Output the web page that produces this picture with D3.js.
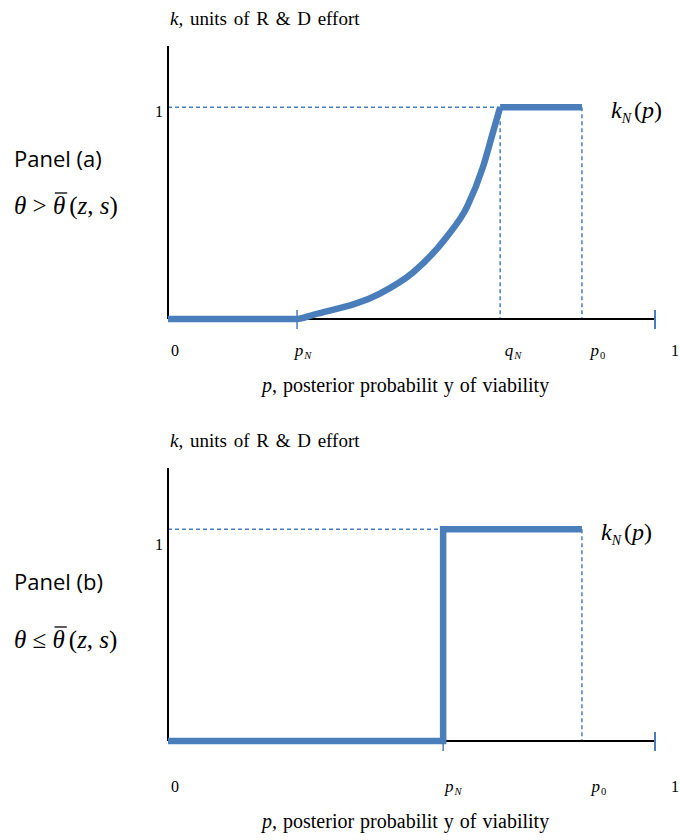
<!DOCTYPE html>
<html>
<head>
<meta charset="utf-8">
<script src="https://cdn.jsdelivr.net/npm/d3@7"></script>
<style>
  body { margin: 0; background: #fff; }
  svg { display: block; }
</style>
</head>
<body>
<svg width="680" height="840"></svg>
<script>
(function(){
    // Values (p on [0,1], k in units of effort)
    const pTicksA = ["pN", "qN", "p0"];
    const pValuesA = [0.265, 0.682, 0.85];
    const curvePA = [0, 0.265, 0.298, 0.435, 0.503, 0.573, 0.614, 0.647, 0.667, 0.682];
    const curveKA = [0, 0, 0.02, 0.12, 0.22, 0.39, 0.53, 0.72, 0.88, 1];
    const flatPA = [0.682, 0.85];

    const pTicksB = ["pN", "p0"];
    const pValuesB = [0.565, 0.85];
    const stepPB = [0, 0.565, 0.565, 0.85];
    const stepKB = [0, 0, 1, 1];

    const blue = "#4a7ebb";
    const serif = "'Liberation Serif', 'Times New Roman', serif";
    const sans = "'Open Sans', 'Noto Sans', sans-serif";

    const svg = d3.select("svg");

    // Shared x scale; each panel gets its own y range
    const x = d3.scaleLinear().domain([0, 1]).range([168, 655]);

    // label helper: italic letter with a subscript
    function subLabel(g, x0, y0, base, sub, size) {
        const t = g.append("text")
            .attr("x", x0).attr("y", y0)
            .attr("text-anchor", "middle")
            .style("font-family", serif)
            .style("font-size", size + "px");
        t.append("tspan").style("font-style", "italic").text(base);
        t.append("tspan").attr("dx", 1).attr("dy", 3)
            .style("font-size", (size * 0.62) + "px")
            .style("font-style", sub === "0" ? "normal" : "italic")
            .text(sub);
        return t;
    }

    function drawPanel(opts) {
        const g = svg.append("g");
        const y = d3.scaleLinear().domain([0, 1.29]).range([opts.base, opts.base - 273]);

        // axis title on top
        const kt = g.append("text")
            .attr("x", 170).attr("y", opts.base - 294)
            .style("font-family", serif).style("font-size", "19px")
            .style("word-spacing", "2px");
        kt.append("tspan").style("font-style", "italic").text("k");
        kt.append("tspan").text(", units  of  R & D effort");

        // dashed guides
        const dash = g.append("g")
            .attr("stroke", blue).attr("stroke-width", 1.5)
            .attr("stroke-dasharray", "4,3").attr("fill", "none");
        dash.append("line")
            .attr("x1", x(0)).attr("x2", x(opts.dashTo))
            .attr("y1", y(1)).attr("y2", y(1));
        opts.dropLines.forEach(p => {
            dash.append("line")
                .attr("x1", x(p)).attr("x2", x(p))
                .attr("y1", y(1)).attr("y2", y(0));
        });

        // axes
        g.append("line")
            .attr("x1", x(0)).attr("x2", x(0))
            .attr("y1", y(1.29)).attr("y2", y(0))
            .attr("stroke", "#000").attr("stroke-width", 2);
        g.append("line")
            .attr("x1", x(0)).attr("x2", x(1))
            .attr("y1", y(0)).attr("y2", y(0))
            .attr("stroke", "#000").attr("stroke-width", 2);

        // blue ticks
        g.append("line")
            .attr("x1", x(1)).attr("x2", x(1))
            .attr("y1", y(0) - 9).attr("y2", y(0) + 10)
            .attr("stroke", blue).attr("stroke-width", 2);
        g.append("line")
            .attr("x1", x(opts.pN)).attr("x2", x(opts.pN))
            .attr("y1", y(0) - opts.pNTickUp).attr("y2", y(0) + 10)
            .attr("stroke", blue).attr("stroke-width", 1.5);

        // the k_N(p) function
        opts.drawCurve(g, y);

        // tick labels
        g.append("text").attr("x", 159).attr("y", y(1) + opts.oneDy)
            .attr("text-anchor", "middle")
            .style("font-family", serif).style("font-size", "16px").text("1");
        const ly = y(0) + opts.labelDy;
        g.append("text").attr("x", 175).attr("y", ly).attr("text-anchor", "middle")
            .style("font-family", serif).style("font-size", "16px").text("0");
        g.append("text").attr("x", 675).attr("y", ly).attr("text-anchor", "middle")
            .style("font-family", serif).style("font-size", "16px").text("1");
        opts.ticks.forEach((name, i) => {
            subLabel(g, x(opts.tickVals[i]) + opts.tickShift[i], ly, name[0], name[1], 17);
        });

        // x axis title
        const xt = g.append("text")
            .attr("x", 262).attr("y", y(0) + opts.titleDy)
            .style("font-family", serif).style("font-size", "20px")
            .style("word-spacing", "1px");
        xt.append("tspan").style("font-style", "italic").text("p");
        xt.append("tspan").text(", posterior probabilit y of  viability");

        // k_N(p) label
        const kn = g.append("text")
            .attr("x", opts.knX).attr("y", y(1) + 11)
            .style("font-family", serif).style("font-size", "24px");
        kn.append("tspan").style("font-style", "italic").text("k");
        kn.append("tspan").attr("dy", 5).style("font-size", "14px").style("font-style", "italic").text("N");
        kn.append("tspan").attr("dx", 3).attr("dy", -5).text("(");
        kn.append("tspan").style("font-style", "italic").text("p");
        kn.append("tspan").text(")");

        // panel name and condition
        g.append("text").attr("x", 14).attr("y", opts.panelY)
            .style("font-family", sans).style("font-size", "22px").text(opts.panelName);
        const cond = g.append("text").attr("x", 14).attr("y", opts.condY)
            .style("font-family", serif).style("font-size", "25px");
        cond.append("tspan").style("font-style", "italic").text("θ");
        cond.append("tspan").text(" " + opts.rel + " ");
        cond.append("tspan").style("font-style", "italic").text("θ");
        cond.append("tspan").attr("dx", 4).text("(");
        cond.append("tspan").style("font-style", "italic").text("z");
        cond.append("tspan").text(", ");
        cond.append("tspan").style("font-style", "italic").text("s");
        cond.append("tspan").text(")");
        // overline above the second theta
        const node = cond.node();
        const idx = 4; // index of the second θ
        const s = node.getStartPositionOfChar(idx);
        const e = node.getEndPositionOfChar(idx);
        g.append("line")
            .attr("x1", s.x + 2).attr("x2", e.x + 2)
            .attr("y1", opts.condY - 21).attr("y2", opts.condY - 21)
            .attr("stroke", "#000").attr("stroke-width", 1.3);
    }

    // Panel (a)
    drawPanel({
        base: 319, pN: pValuesA[0], pNTickUp: 9, dashTo: pValuesA[1],
        dropLines: [pValuesA[1], pValuesA[2]],
        ticks: pTicksA, tickVals: pValuesA, tickShift: [6, 13, 16],
        labelDy: 37, titleDy: 73, oneDy: 10, knX: 611,
        panelName: "Panel (a)", panelY: 167, condY: 214, rel: ">",
        drawCurve: function(g, y) {
            const pts = curvePA.map((p, i) => [x(p), y(curveKA[i])]);
            const line = d3.line().curve(d3.curveMonotoneX);
            g.append("path")
                .attr("d", line(pts))
                .attr("fill", "none").attr("stroke", blue)
                .attr("stroke-width", 6.5).attr("stroke-linejoin", "round");
            g.append("path")
                .attr("d", d3.line()(flatPA.map(p => [x(p), y(1)])))
                .attr("fill", "none").attr("stroke", blue).attr("stroke-width", 6.5);
        }
    });

    // Panel (b)
    drawPanel({
        base: 741, pN: pValuesB[0], pNTickUp: 0, dashTo: pValuesB[0],
        dropLines: [pValuesB[1]],
        ticks: pTicksB, tickVals: pValuesB, tickShift: [10, 17],
        labelDy: 51, titleDy: 87, oneDy: 21, knX: 601,
        panelName: "Panel (b)", panelY: 590, condY: 648, rel: "≤",
        drawCurve: function(g, y) {
            const pts = stepPB.map((p, i) => [x(p), y(stepKB[i])]);
            g.append("path")
                .attr("d", d3.line()(pts))
                .attr("fill", "none").attr("stroke", blue)
                .attr("stroke-width", 6.5).attr("stroke-linejoin", "miter");
        }
    });
})();
</script>
</body>
</html>
